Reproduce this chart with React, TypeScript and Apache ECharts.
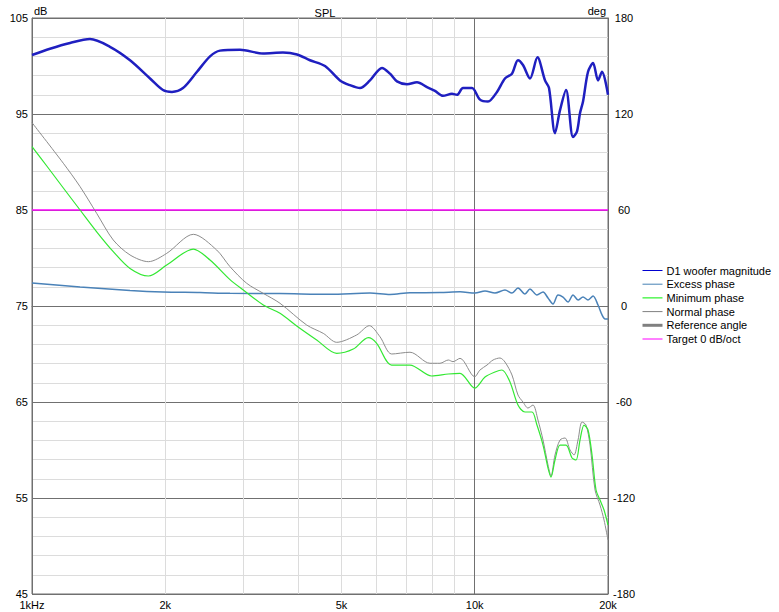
import React, { useEffect, useRef } from "react";
import * as echarts from "echarts";

const FONT = "'Liberation Sans', Arial, sans-serif";

const freqGridMinor = [2000, 3000, 4000, 5000, 6000, 7000, 8000, 9000];
const freqMarkLabels: Record<number, string> = { 2000: "2k", 5000: "5k" };
const freqAxisLabels: Record<number, string> = { 1000: "1kHz", 10000: "10k", 20000: "20k" };

const legendNames = [
  "D1 woofer magnitude",
  "Excess phase",
  "Minimum phase",
  "Normal phase",
  "Reference angle",
  "Target 0 dB/oct",
];
const legendColors = ["#0000d0", "#4682b4", "#00f000", "#808080", "#808080", "#ff00ff"];
const legendWidths = [1, 1, 1, 1, 3, 1];

// dB (left axis)
const magnitude: [number, number][] = [
  [1000, 101.15], [1098, 101.8], [1219, 102.4], [1352, 102.8], [1500, 102.0], [1665, 100.6],
  [1848, 98.7], [1976, 97.5], [2071, 97.3], [2193, 97.7], [2359, 99.4], [2524, 101.0],
  [2658, 101.6], [2950, 101.7], [3325, 101.3], [3689, 101.4], [3968, 101.2], [4245, 100.6],
  [4590, 100.0], [4962, 98.5], [5227, 98.0], [5506, 97.7], [5800, 98.5], [6173, 99.8],
  [6436, 99.2], [6674, 98.4], [7031, 98.1], [7406, 98.3], [7801, 97.8], [8133, 97.4],
  [8478, 96.9], [8885, 97.1], [9119, 97.0], [9408, 97.7], [9859, 97.7], [10278, 96.5],
  [10715, 96.3], [11228, 97.3], [11703, 98.7], [12137, 99.2], [12522, 100.6], [12852, 100.1],
  [13329, 98.7], [13858, 100.9], [14413, 98.5], [14716, 97.7], [15182, 93.0], [15583, 95.4],
  [16078, 97.5], [16674, 92.6], [17024, 93.2], [17292, 95.1], [17564, 96.3], [18027, 99.4],
  [18502, 100.3], [18990, 98.5], [19389, 99.4], [20000, 97.0],
];

const target: [number, number][] = [[1000, 85], [20000, 85]];

// degrees (right axis)
const excessPhase: [number, number][] = [
  [1000, 14.4], [1284, 11.9], [1665, 9.7], [1976, 8.75], [2396, 8.4], [2800, 7.9],
  [3632, 7.8], [4710, 7.3], [5800, 8.1], [6436, 7.2], [7141, 8.3], [8347, 8.4],
  [9263, 8.9], [10014, 8.1], [10549, 9.4], [11111, 8.1], [11703, 10], [12137, 8.1],
  [12522, 11.25], [12986, 7.5], [13329, 10.6], [13822, 6.9], [14264, 8.75], [14640, 5],
  [15025, 1.25], [15422, 6.9], [15828, 5.6], [16246, 2.5], [16674, 6.9], [17113, 3.75],
  [17564, 5.6], [18027, 3.75], [18502, 6.25], [18990, 0.6], [19389, -5.6], [19694, -8.1],
  [20000, -8.1],
];

const minimumPhase: [number, number][] = [
  [1000, 99.6], [1080, 87.5], [1177, 73.75], [1284, 60], [1400, 46.4], [1526, 34.0],
  [1665, 23.5], [1832, 18.75], [2015, 25.6], [2314, 35.6], [2524, 28.75], [2800, 16.5],
  [3001, 10.0], [3330, 0.6], [3632, -4.6], [3962, -12.5], [4396, -21.25], [4878, -29.6],
  [5317, -26.9], [5749, -19.8], [6005, -23.3], [6493, -36.9], [7141, -36.9], [7994, -43.75],
  [8716, -42.5], [9263, -42.1], [10000, -51.3], [10549, -44.4], [11111, -41.25], [11523, -40],
  [12012, -47.5], [12522, -61.9], [12986, -66.25], [13468, -66.25], [13822, -74.4], [14264, -86.9],
  [14640, -101.25], [14870, -106.9], [15182, -96.25], [15583, -86.9], [16078, -86.9], [16587, -95],
  [16936, -96.25], [17292, -83.75], [17656, -74.4], [18027, -77.5], [18406, -93.1], [18793, -115],
  [19188, -121.25], [19592, -127.5], [20000, -136.9],
];

const normalPhase: [number, number][] = [
  [1000, 114.6], [1177, 89.2], [1284, 74.6], [1400, 57.9], [1526, 41.25], [1665, 31.9],
  [1832, 27.7], [2015, 32.9], [2314, 44.8], [2613, 35], [2800, 24.6], [3054, 14.2],
  [3330, 7.9], [3632, 1.7], [4173, -11.9], [4549, -17.1], [4878, -22.7], [5412, -18.1],
  [5779, -12.3], [6109, -19.2], [6493, -30], [7141, -28.9], [7924, -35.8], [8347, -35.8],
  [8716, -33.75], [8931, -34.8], [9263, -32.7], [10000, -44.2], [10278, -40], [10660, -36.9],
  [11000, -33.75], [11404, -32.5], [11703, -35], [12137, -43.1], [12522, -55.6], [12852, -60],
  [13191, -63.75], [13538, -61.9], [13894, -71.25], [14264, -83.75], [14640, -99.4], [14870, -106.25],
  [15182, -93.1], [15583, -83.75], [15994, -82.5], [16415, -90], [16761, -93.1], [17113, -83.75],
  [17473, -72.5], [17840, -74.4], [18216, -86.9], [18696, -115], [19188, -124.4], [19592, -133.75],
  [20000, -146.25],
];

const referenceAngle: [number, number][] = [];

export default function App() {
  const ref = useRef<HTMLDivElement>(null);
  useEffect(() => {
    if (!ref.current) return;
    const chart = echarts.init(ref.current, null, { renderer: "svg" });
    const labelStyle = { color: "#000", fontSize: 11, fontFamily: FONT };
    const hiddenSymbol = { color: "transparent", borderWidth: 0, opacity: 0 };
    const option: any = {
      animation: false,
      backgroundColor: "#fff",
      textStyle: { fontFamily: FONT },
      title: {
        text: "SPL",
        left: 320,
        top: 2,
        textAlign: "center",
        textStyle: { ...labelStyle, fontWeight: "normal" },
      },
      legend: {
        orient: "vertical",
        left: 641,
        top: 265,
        padding: 0,
        itemWidth: 20,
        itemHeight: 13,
        itemGap: 2.7,
        selectedMode: false,
        textStyle: { ...labelStyle, padding: [0, 0, 0, -1] },
        itemStyle: hiddenSymbol,
        data: legendNames.map((name, i) => ({
          name,
          itemStyle: hiddenSymbol,
          lineStyle: { width: legendWidths[i], color: legendColors[i], opacity: 1 },
        })),
      },
      grid: {
        left: 32,
        top: 18,
        width: 576,
        height: 576,
        show: true,
        borderColor: "#707070",
        borderWidth: 1,
        backgroundColor: "transparent",
      },
      xAxis: {
        type: "log",
        logBase: 10,
        min: 1000,
        max: 20000,
        axisLine: { show: true, lineStyle: { color: "#707070" } },
        axisTick: { show: false },
        splitLine: { show: true, lineStyle: { color: "#707070", width: 1 } },
        axisLabel: {
          ...labelStyle,
          margin: 5,
          lineHeight: 11,
          showMinLabel: true,
          showMaxLabel: true,
          formatter: (v: number) => freqAxisLabels[Math.round(v)] ?? "",
        },
      },
      yAxis: [
        {
          type: "value",
          position: "left",
          min: 45,
          max: 105,
          interval: 10,
          name: "dB",
          nameLocation: "end",
          nameGap: 2,
          nameTextStyle: { ...labelStyle, align: "left", padding: [0, 0, 0, 2] },
          axisLine: { show: true, lineStyle: { color: "#707070" } },
          axisTick: { show: false },
          splitLine: { show: true, lineStyle: { color: "#707070", width: 1 } },
          minorTick: { show: false, splitNumber: 5 },
          minorSplitLine: { show: true, lineStyle: { color: "#dcdcdc", width: 1 } },
          axisLabel: { ...labelStyle, margin: 4, lineHeight: 11, padding: [0, 0, 4, 0] },
        },
        {
          type: "value",
          position: "right",
          min: -180,
          max: 180,
          interval: 60,
          name: "deg",
          nameLocation: "end",
          nameGap: 2,
          nameTextStyle: { ...labelStyle, align: "right", padding: [0, 2, 0, 0] },
          axisLine: { show: true, lineStyle: { color: "#707070" } },
          axisTick: { show: false },
          splitLine: { show: false },
          axisLabel: {
            ...labelStyle,
            margin: 16,
            align: "center",
            lineHeight: 11,
            padding: [0, 0, 3, 0],
          },
        },
      ],
      series: [
        {
          name: "__grid",
          type: "line",
          data: [],
          z: 1,
          silent: true,
          markLine: {
            silent: true,
            z: 1,
            symbol: ["none", "none"],
            animation: false,
            lineStyle: { color: "#dcdcdc", width: 1, type: "solid" },
            emphasis: { disabled: true },
            data: freqGridMinor.map((f) => ({
              xAxis: f,
              label: freqMarkLabels[f]
                ? {
                    show: true,
                    position: "start",
                    distance: 5,
                    lineHeight: 11,
                    formatter: freqMarkLabels[f],
                    ...labelStyle,
                  }
                : { show: false },
            })),
          },
        },
        {
          name: legendNames[5],
          type: "line",
          yAxisIndex: 0,
          data: target,
          showSymbol: false,
          symbol: "none",
          lineStyle: { color: "#ff00ff", width: 1.5 },
          itemStyle: { color: "#ff00ff" },
        },
        {
          name: legendNames[4],
          type: "line",
          yAxisIndex: 1,
          data: referenceAngle,
          symbol: "none",
          lineStyle: { color: "#808080", width: 3 },
          itemStyle: { color: "#808080" },
        },
        {
          name: legendNames[1],
          type: "line",
          yAxisIndex: 1,
          data: excessPhase,
          symbol: "none",
          smooth: 0.3,
          lineStyle: { color: "#4a82b8", width: 1.5 },
          itemStyle: { color: "#4682b4" },
        },
        {
          name: legendNames[3],
          type: "line",
          yAxisIndex: 1,
          data: normalPhase,
          symbol: "none",
          smooth: 0.3,
          lineStyle: { color: "#8c8c8c", width: 1 },
          itemStyle: { color: "#808080" },
        },
        {
          name: legendNames[2],
          type: "line",
          yAxisIndex: 1,
          data: minimumPhase,
          symbol: "none",
          smooth: 0.3,
          lineStyle: { color: "#33e833", width: 1.2 },
          itemStyle: { color: "#00f000" },
        },
        {
          name: legendNames[0],
          type: "line",
          yAxisIndex: 0,
          data: magnitude,
          symbol: "none",
          smooth: 0.3,
          lineStyle: { color: "#1f1fc0", width: 2.5 },
          itemStyle: { color: "#0000c8" },
        },
      ],
    };
    chart.setOption(option);
    return () => chart.dispose();
  }, []);
  return (
    <div
      ref={ref}
      style={{ position: "fixed", left: 0, top: 0, width: 779, height: 612, background: "#fff" }}
    />
  );
}
